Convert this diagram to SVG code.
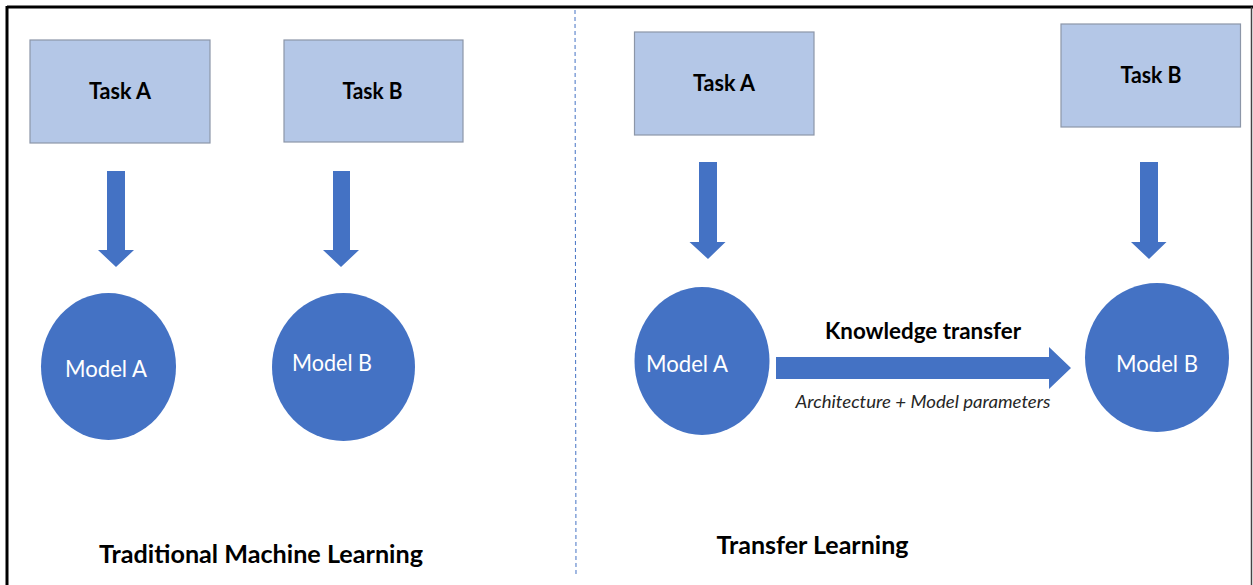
<svg xmlns="http://www.w3.org/2000/svg" width="1253" height="585" viewBox="0 0 1253 585">
<style>
.task{fill:#B4C7E7;stroke:#8C96A8;stroke-width:1.2}
.model{fill:#4472C4}
.arr{fill:#4472C4}
.tt{font-family:Lato,"Open Sans",sans-serif;font-weight:bold;font-size:22px;fill:#000;text-anchor:middle}
.mt{font-family:Lato,"Open Sans",sans-serif;font-size:23px;fill:#fff;text-anchor:middle}
.title{font-family:Lato,"Open Sans",sans-serif;font-weight:bold;font-size:24px;fill:#000}
.kt{font-family:Lato,"Open Sans",sans-serif;font-weight:bold;font-size:22px;fill:#000;text-anchor:middle}
.it{font-family:Lato,"Open Sans",sans-serif;font-style:italic;font-size:18px;fill:#262626;text-anchor:middle}
</style>
<rect width="1253" height="585" fill="#fff"/>
<g id="frame">
<line x1="7" y1="7" x2="1253" y2="7" stroke="#000" stroke-width="3"/>
<line x1="7" y1="6" x2="7" y2="585" stroke="#000" stroke-width="3"/>
<line x1="1251.5" y1="7" x2="1251.5" y2="585" stroke="#444" stroke-width="1.5"/>
<line x1="575" y1="10" x2="576" y2="575" stroke="#4472C4" stroke-width="1" stroke-dasharray="4,3"/>
</g>
<g id="left-taskA"><rect class="task" x="30" y="40" width="180" height="103"/><text class="tt" x="120" y="99" textLength="62" lengthAdjust="spacingAndGlyphs">Task A</text></g>
<g id="left-taskB"><rect class="task" x="284" y="40" width="179" height="102"/><text class="tt" x="372.5" y="99" textLength="60" lengthAdjust="spacingAndGlyphs">Task B</text></g>
<g id="left-modelA"><ellipse class="model" cx="108.5" cy="366.5" rx="67.5" ry="73.5"/><text class="mt" x="106" y="377" textLength="82" lengthAdjust="spacingAndGlyphs">Model A</text></g>
<g id="left-modelB"><ellipse class="model" cx="343.5" cy="367" rx="71.5" ry="74"/><text class="mt" x="332" y="371" textLength="80" lengthAdjust="spacingAndGlyphs">Model B</text></g>
<g id="right-taskA"><rect class="task" x="634.5" y="32" width="179.5" height="103"/><text class="tt" x="724" y="91" textLength="62" lengthAdjust="spacingAndGlyphs">Task A</text></g>
<g id="right-taskB"><rect class="task" x="1061" y="24" width="179.5" height="103"/><text class="tt" x="1151" y="83" textLength="61" lengthAdjust="spacingAndGlyphs">Task B</text></g>
<g id="right-modelA"><ellipse class="model" cx="702" cy="361" rx="67.5" ry="74"/><text class="mt" x="687" y="372" textLength="82" lengthAdjust="spacingAndGlyphs">Model A</text></g>
<g id="right-modelB"><ellipse class="model" cx="1157" cy="357.5" rx="72" ry="74.5"/><text class="mt" x="1157" y="372" textLength="82" lengthAdjust="spacingAndGlyphs">Model B</text></g>
<g id="connectors">
<polygon class="arr" points="107,171 125,171 125,250 134,250 116,267 98,250 107,250"/>
<polygon class="arr" points="333,171 350,171 350,250 359,250 341,267 323,250 333,250"/>
<polygon class="arr" points="699,162 717,162 717,242 725.5,242 708,259 689.5,242 699,242"/>
<polygon class="arr" points="1140,162 1158,162 1158,242 1166.5,242 1149,259 1131,242 1140,242"/>
<polygon class="arr" points="776,357 1049,357 1049,347 1071,368 1049,389 1049,379 776,379"/>
<text class="kt" x="923" y="339" textLength="196" lengthAdjust="spacingAndGlyphs">Knowledge transfer</text>
<text class="it" x="923" y="408" textLength="255" lengthAdjust="spacingAndGlyphs">Architecture + Model parameters</text>
</g>
<g id="titles">
<text class="title" x="99" y="563" textLength="324" lengthAdjust="spacingAndGlyphs">Traditional Machine Learning</text>
<text class="title" x="716.5" y="554" textLength="192" lengthAdjust="spacingAndGlyphs">Transfer Learning</text>
</g>
</svg>
